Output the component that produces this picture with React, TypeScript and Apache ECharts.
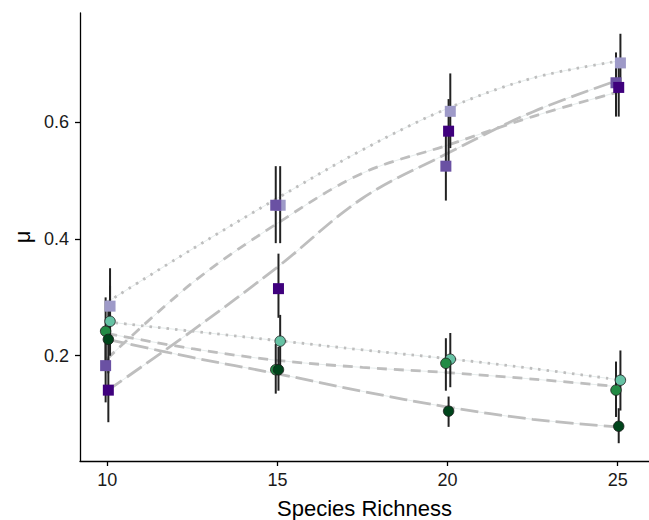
import React, { useEffect, useRef } from "react";
import * as echarts from "echarts";

// Species richness levels
const richness = [10, 15, 20, 25];

// Point estimates (mu) for each treatment
const purpleLight = [0.285, 0.458, 0.619, 0.702];
const purpleMedium = [0.183, 0.458, 0.525, 0.668];
const purpleDark = [0.141, 0.315, 0.585, 0.66];
const greenLight = [0.259, 0.225, 0.194, 0.158];
const greenMedium = [0.242, 0.176, 0.187, 0.141];
const greenDark = [0.228, 0.176, 0.105, 0.079];

// Error bar bounds
const purpleLightLo = [0.22, 0.393, 0.556, 0.655];
const purpleLightHi = [0.35, 0.525, 0.684, 0.752];
const purpleMediumLo = [0.12, 0.393, 0.466, 0.61];
const purpleMediumHi = [0.25, 0.525, 0.585, 0.72];
const purpleDarkLo = [0.086, 0.265, 0.53, 0.61];
const purpleDarkHi = [0.195, 0.375, 0.64, 0.71];
const greenLightLo = [0.2, 0.18, 0.146, 0.106];
const greenLightHi = [0.32, 0.27, 0.239, 0.209];
const greenMediumLo = [0.18, 0.135, 0.14, 0.095];
const greenMediumHi = [0.3, 0.22, 0.23, 0.19];
const greenDarkLo = [0.17, 0.14, 0.078, 0.05];
const greenDarkHi = [0.29, 0.215, 0.13, 0.11];

// Fitted curves sampled along species richness
const curveX = [10, 12.5, 15, 17.5, 20, 22.5, 25];
const fitPurpleLight = [0.292, 0.383, 0.47, 0.553, 0.624, 0.676, 0.705];
const fitPurpleMedium = [0.195, 0.325, 0.427, 0.513, 0.561, 0.61, 0.652];
const fitPurpleDark = [0.14, 0.243, 0.352, 0.47, 0.547, 0.618, 0.672];
const fitGreenLight = [0.258, 0.242, 0.226, 0.21, 0.195, 0.178, 0.159];
const fitGreenMedium = [0.238, 0.212, 0.192, 0.18, 0.171, 0.16, 0.147];
const fitGreenDark = [0.228, 0.197, 0.169, 0.139, 0.112, 0.091, 0.078];

const xTicks = [10, 15, 20, 25];
const yTicks = [0.2, 0.4, 0.6];

const FONT = "Liberation Sans, Arial, sans-serif";

export default function App() {
  const ref = useRef<HTMLDivElement>(null);

  useEffect(() => {
    if (!ref.current) return;
    const chart = echarts.init(ref.current, undefined, { renderer: "svg" });

    const groups = [
      { y: purpleLight, lo: purpleLightLo, hi: purpleLightHi, fit: fitPurpleLight, color: "#9E9AC8", symbol: "rect", dash: [2.5, 6], off: 0.08 },
      { y: purpleMedium, lo: purpleMediumLo, hi: purpleMediumHi, fit: fitPurpleMedium, color: "#6A51A3", symbol: "rect", dash: [10, 7], off: -0.05 },
      { y: purpleDark, lo: purpleDarkLo, hi: purpleDarkHi, fit: fitPurpleDark, color: "#3F007D", symbol: "rect", dash: [18, 6], off: 0.03 },
      { y: greenLight, lo: greenLightLo, hi: greenLightHi, fit: fitGreenLight, color: "#66C2A4", symbol: "circle", dash: [2.5, 6], off: 0.08 },
      { y: greenMedium, lo: greenMediumLo, hi: greenMediumHi, fit: fitGreenMedium, color: "#238B45", symbol: "circle", dash: [10, 7], off: -0.05 },
      { y: greenDark, lo: greenDarkLo, hi: greenDarkHi, fit: fitGreenDark, color: "#00441B", symbol: "circle", dash: [18, 6], off: 0.03 },
    ];

    const series: any[] = [];
    // faint underlying curves
    groups.forEach((g) => {
      series.push({
        type: "line",
        data: curveX.map((x, i) => [x, g.fit[i]]),
        smooth: 0.35,
        showSymbol: false,
        silent: true,
        lineStyle: { color: "rgba(200,212,212,0.45)", width: 1 },
        z: 1,
      });
    });
    // dashed fitted curves
    groups.forEach((g) => {
      series.push({
        type: "line",
        data: curveX.map((x, i) => [x, g.fit[i]]),
        smooth: 0.35,
        showSymbol: false,
        silent: true,
        lineStyle: { color: "#BEBEBE", width: 2.8, type: g.dash, cap: "butt" },
        z: 2,
      });
    });
    // error bars
    groups.forEach((g) => {
      series.push({
        type: "custom",
        silent: true,
        z: 3,
        data: richness.map((x, i) => [x + g.off, g.lo[i], g.hi[i]]),
        encode: { x: 0, y: [1, 2] },
        renderItem: (params: any, api: any) => {
          const x = api.value(0);
          const p1 = api.coord([x, api.value(1)]);
          const p2 = api.coord([x, api.value(2)]);
          return {
            type: "line",
            shape: { x1: p1[0], y1: p1[1], x2: p2[0], y2: p2[1] },
            style: { stroke: "#222222", lineWidth: 2 },
          };
        },
      });
    });
    // points
    groups.forEach((g) => {
      series.push({
        type: "scatter",
        data: richness.map((x, i) => [x + g.off, g.y[i]]),
        symbol: g.symbol,
        symbolSize: g.symbol === "rect" ? 11 : 10.5,
        itemStyle:
          g.symbol === "rect"
            ? { color: g.color, opacity: 1 }
            : { color: g.color, opacity: 1, borderColor: "#1a1a1a", borderWidth: 0.8 },
        z: 4,
      });
    });

    chart.setOption({
      animation: false,
      grid: { left: 80, right: 0, top: 13, bottom: 59, containLabel: false, outerBoundsMode: "none" },
      xAxis: {
        type: "value",
        min: 9.197,
        max: 25.92,
        name: "Species Richness",
        nameLocation: "middle",
        nameGap: 36,
        nameTextStyle: { fontFamily: FONT, fontSize: 22, color: "#000" },
        axisLine: { show: true, lineStyle: { color: "#000", width: 1.3 } },
        axisTick: { show: true, length: 5, customValues: xTicks, lineStyle: { color: "#000", width: 1.3 } },
        axisLabel: { customValues: xTicks, fontFamily: FONT, fontSize: 18, color: "#1a1a1a", margin: 10 },
        splitLine: { show: false },
      },
      yAxis: {
        type: "value",
        min: 0.0195,
        max: 0.7876,
        name: "μ",
        nameLocation: "middle",
        nameGap: 47,
        nameTextStyle: { fontFamily: FONT, fontSize: 22, color: "#000" },
        axisLine: { show: true, lineStyle: { color: "#000", width: 1.3 } },
        axisTick: { show: true, length: 5, customValues: yTicks, lineStyle: { color: "#000", width: 1.3 } },
        axisLabel: {
          customValues: yTicks,
          fontFamily: FONT,
          fontSize: 18,
          color: "#1a1a1a",
          margin: 11,
          formatter: (v: number) => v.toFixed(1),
        },
        splitLine: { show: false },
      },
      series,
    });

    return () => chart.dispose();
  }, []);

  return (
    <div
      ref={ref}
      style={{ position: "absolute", left: 0, top: 0, width: 649, height: 520, background: "#fff" }}
    />
  );
}
